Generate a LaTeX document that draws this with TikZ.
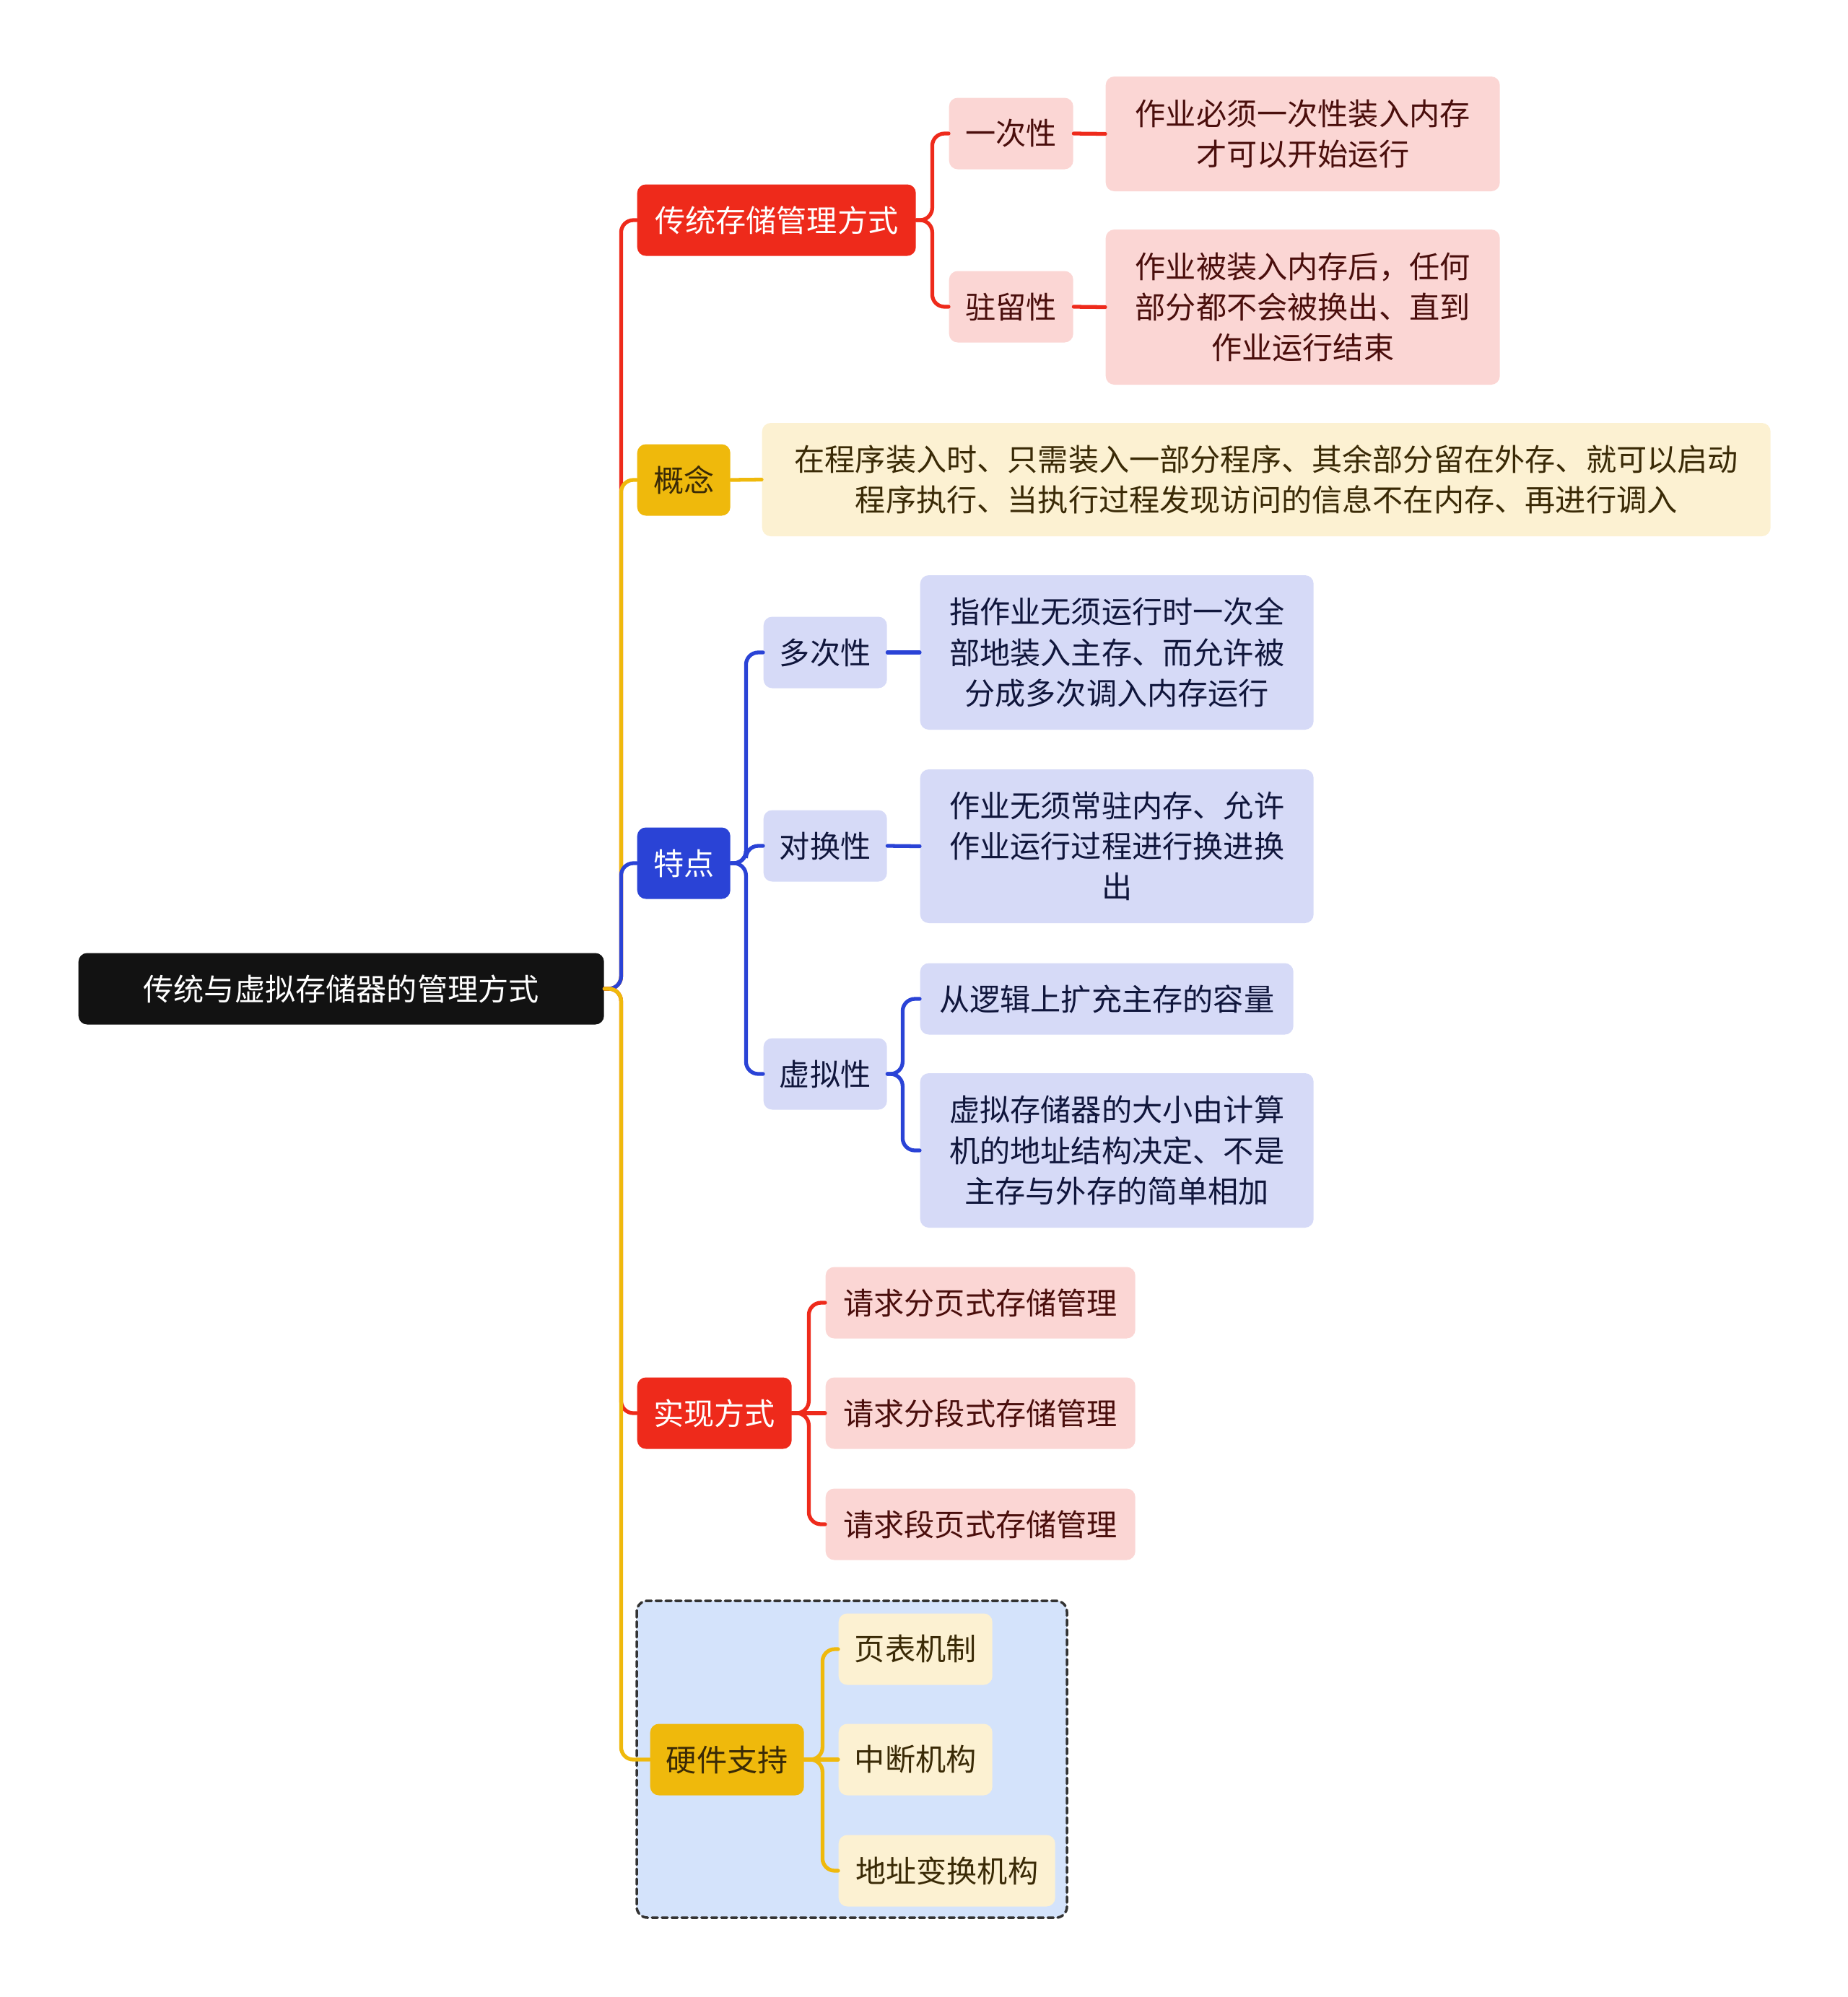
\documentclass[tikz,border=0pt]{standalone}
\usepackage{fontspec}
\newfontfamily\cjk{Noto Sans CJK SC}
\usepackage{xcolor}
\definecolor{mred}{HTML}{EE2A1B}
\definecolor{mpink}{HTML}{FBD6D4}
\definecolor{mredtx}{HTML}{4A0E0C}
\definecolor{myel}{HTML}{EFB90C}
\definecolor{mcream}{HTML}{FCF1D2}
\definecolor{myeltx}{HTML}{3A2A06}
\definecolor{mblue}{HTML}{2A43D6}
\definecolor{mlav}{HTML}{D6DAF7}
\definecolor{mbluetx}{HTML}{10163C}
\definecolor{mbox}{HTML}{D4E3FB}

\begin{document}
\begin{tikzpicture}[line cap=round,
  box/.style={anchor=west,rounded corners=0.12cm,minimum height=0.99cm,inner sep=0pt,
    align=center,font=\cjk\fontsize{12}{16}\selectfont},
  rootbox/.style={box,fill=black!93,text=white},
  redmain/.style={box,fill=mred,text=white},
  redsub/.style={box,fill=mpink,text=mredtx},
  yelmain/.style={box,fill=myel,text=myeltx},
  yelsub/.style={box,fill=mcream,text=myeltx},
  bluemain/.style={box,fill=mblue,text=white},
  bluesub/.style={box,fill=mlav,text=mbluetx},
  ln/.style={line width=1.5pt,rounded corners=0.17cm},
  redln/.style={ln,draw=mred},
  yelln/.style={ln,draw=myel},
  blueln/.style={ln,draw=mblue}]
\useasboundingbox (0,0) rectangle (25.6,-27.67);
% hardware frame
\draw[fill=mbox,draw=black!80,line width=1pt,dash pattern=on 2.3pt off 1.6pt,rounded corners=0.15cm]
  (8.82,-22.18) rectangle (14.78,-26.57);
% root
\node[rootbox,minimum width=7.28cm] (root) at (1.08,-13.70) {传统与虚拟存储器的管理方式};
% traditional
\node[redmain,minimum width=3.86cm] (trad) at (8.82,-3.05) {传统存储管理方式};
\node[redsub,minimum width=1.72cm] (once) at (13.14,-1.85) {一次性};
\node[redsub,minimum width=5.46cm,minimum height=1.59cm] (onceTx) at (15.31,-1.855) {作业必须一次性装入内存\\才可以开始运行};
\node[redsub,minimum width=1.72cm] (resid) at (13.14,-4.25) {驻留性};
\node[redsub,minimum width=5.46cm,minimum height=2.15cm] (residTx) at (15.31,-4.255) {作业被装入内存后，任何\\部分都不会被换出、直到\\作业运行结束};
% concept
\node[yelmain,minimum width=1.29cm] (concept) at (8.82,-6.65) {概念};
\node[yelsub,minimum width=13.97cm,minimum height=1.57cm] (conceptTx) at (10.55,-6.645) {在程序装入时、只需装入一部分程序、其余部分留在外存、就可以启动\\程序执行、当执行过程发现访问的信息不在内存、再进行调入};
% features
\node[bluemain,minimum width=1.29cm] (feat) at (8.82,-11.96) {特点};
\node[bluesub,minimum width=1.71cm] (multi) at (10.57,-9.04) {多次性};
\node[bluesub,minimum width=5.45cm,minimum height=2.14cm] (multiTx) at (12.74,-9.04) {指作业无须运行时一次全\\部地装入主存、而允许被\\分成多次调入内存运行};
\node[bluesub,minimum width=1.71cm] (swap) at (10.57,-11.72) {对换性};
\node[bluesub,minimum width=5.45cm,minimum height=2.13cm] (swapTx) at (12.74,-11.725) {作业无须常驻内存、允许\\作业运行过程进行换进换\\出};
\node[bluesub,minimum width=1.71cm] (virt) at (10.57,-14.88) {虚拟性};
\node[bluesub,minimum width=5.17cm] (virtA) at (12.74,-13.84) {从逻辑上扩充主存的容量};
\node[bluesub,minimum width=5.45cm,minimum height=2.14cm] (virtB) at (12.74,-15.94) {虚拟存储器的大小由计算\\机的地址结构决定、不是\\主存与外存的简单相加};
% implementation
\node[redmain,minimum width=2.14cm] (impl) at (8.82,-19.58) {实现方式};
\node[redsub,minimum width=4.29cm] (implA) at (11.43,-18.05) {请求分页式存储管理};
\node[redsub,minimum width=4.29cm] (implB) at (11.43,-19.58) {请求分段式存储管理};
\node[redsub,minimum width=4.29cm] (implC) at (11.43,-21.12) {请求段页式存储管理};
% hardware
\node[yelmain,minimum width=2.13cm] (hw) at (9.00,-24.38) {硬件支持};
\node[yelsub,minimum width=2.13cm] (hwA) at (11.61,-22.85) {页表机制};
\node[yelsub,minimum width=2.13cm] (hwB) at (11.61,-24.38) {中断机构};
\node[yelsub,minimum width=3.00cm] (hwC) at (11.61,-25.92) {地址变换机构};
% connectors
\draw[redln] (root.east) -- ++(0.23,0) |- (trad.west);
\draw[yelln] (root.east) -- ++(0.23,0) |- (concept.west);
\draw[blueln] (root.east) -- ++(0.23,0) |- (feat.west);
\draw[redln] (root.east) -- ++(0.23,0) |- (impl.west);
\draw[yelln] (root.east) -- ++(0.23,0) |- (hw.west);
\draw[redln] (trad.east) -- ++(0.22,0) |- (once.west);
\draw[redln] (trad.east) -- ++(0.22,0) |- (resid.west);
\draw[redln] (once.east) -- (onceTx.west);
\draw[redln] (resid.east) -- (residTx.west);
\draw[yelln] (concept.east) -- (conceptTx.west);
\draw[blueln] (feat.east) -- ++(0.21,0) |- (multi.west);
\draw[blueln] (feat.east) -- ++(0.21,0) |- (swap.west);
\draw[blueln] (feat.east) -- ++(0.21,0) |- (virt.west);
\draw[blueln] (multi.east) -- (multiTx.west);
\draw[blueln] (swap.east) -- (swapTx.west);
\draw[blueln] (virt.east) -- ++(0.21,0) |- (virtA.west);
\draw[blueln] (virt.east) -- ++(0.21,0) |- (virtB.west);
\draw[redln] (impl.east) -- ++(0.23,0) |- (implA.west);
\draw[redln] (impl.east) -- (implB.west);
\draw[redln] (impl.east) -- ++(0.23,0) |- (implC.west);
\draw[yelln] (hw.east) -- ++(0.25,0) |- (hwA.west);
\draw[yelln] (hw.east) -- (hwB.west);
\draw[yelln] (hw.east) -- ++(0.25,0) |- (hwC.west);
\end{tikzpicture}
\end{document}
